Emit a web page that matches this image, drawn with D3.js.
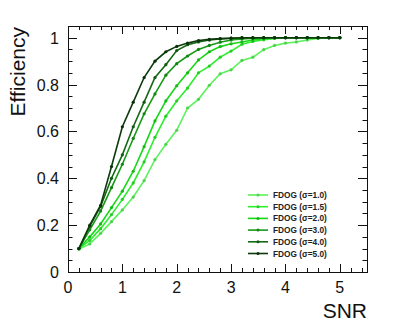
<!DOCTYPE html>
<html><head><meta charset="utf-8">
<script src="https://cdn.jsdelivr.net/npm/d3@7"></script>
<style>body{margin:0;background:#fff}svg{display:block}</style>
</head><body>
<script>
const snr = [0.2,0.4,0.6,0.8,1.0,1.2,1.4,1.6,1.8,2.0,2.2,2.4,2.6,2.8,3.0,3.2,3.4,3.6,3.8,4.0,4.2,4.4,4.6,4.8,5.0];
const sigmaLabels = ["FDOG (σ=1.0)","FDOG (σ=1.5)","FDOG (σ=2.0)","FDOG (σ=3.0)","FDOG (σ=4.0)","FDOG (σ=5.0)"];
const effS10 = [0.097,0.12,0.165,0.215,0.265,0.32,0.39,0.48,0.545,0.605,0.70,0.737,0.797,0.846,0.863,0.903,0.917,0.949,0.967,0.977,0.982,0.99,0.997,1.0,1.0];
const effS15 = [0.10,0.135,0.185,0.245,0.31,0.38,0.47,0.575,0.665,0.73,0.785,0.85,0.879,0.917,0.943,0.972,0.984,0.991,0.997,1.0,1.0,1.0,1.0,1.0,1.0];
const effS20 = [0.10,0.15,0.205,0.275,0.345,0.43,0.535,0.645,0.73,0.795,0.85,0.905,0.94,0.962,0.974,0.982,0.99,0.996,1.0,1.0,1.0,1.0,1.0,1.0,1.0];
const effS30 = [0.10,0.18,0.26,0.36,0.46,0.57,0.675,0.76,0.84,0.889,0.922,0.95,0.967,0.981,0.99,0.995,0.998,1.0,1.0,1.0,1.0,1.0,1.0,1.0,1.0];
const effS40 = [0.10,0.195,0.28,0.40,0.50,0.62,0.725,0.83,0.885,0.945,0.97,0.982,0.99,0.995,0.998,1.0,1.0,1.0,1.0,1.0,1.0,1.0,1.0,1.0,1.0];
const effS50 = [0.10,0.20,0.285,0.45,0.62,0.725,0.83,0.90,0.94,0.963,0.977,0.988,0.993,0.996,0.998,1.0,1.0,1.0,1.0,1.0,1.0,1.0,1.0,1.0,1.0];
const colors = ["#5cf25c","#2cee2c","#18d618","#179a17","#156815","#0c3a0c"];
const xTicks = [0,1,2,3,4,5];
const yTicks = [0,0.2,0.4,0.6,0.8,1];

const series = [effS10,effS15,effS20,effS30,effS40,effS50];
const W=399,H=332;
const L=68,R=367,T=26,B=272;
const svg=d3.select("body").append("svg").attr("width",W).attr("height",H);
const x=d3.scaleLinear().domain([0,5.5]).range([L,R]);
const y=d3.scaleLinear().domain([0,1.05]).range([B,T]);
const font="'Liberation Sans', Arial, Helvetica, sans-serif";

const xMinor=d3.range(0,5.5001,0.2).filter(v=>Math.abs(v-Math.round(v))>1e-6);
const yMinor=d3.range(0,1.0501,0.05).filter(v=>Math.abs(v*5-Math.round(v*5))>1e-6);
const g=svg.append("g").attr("stroke","#111").attr("stroke-width",1).attr("fill","none");
function tick(x1,y1,x2,y2){g.append("line").attr("x1",x1).attr("y1",y1).attr("x2",x2).attr("y2",y2);}
xTicks.forEach(v=>{const px=Math.round(x(v))+0.5;tick(px,B,px,B-8);tick(px,T,px,T+8);});
xMinor.forEach(v=>{const px=Math.round(x(v))+0.5;tick(px,B,px,B-4);tick(px,T,px,T+4);});
yTicks.forEach(v=>{const py=Math.round(y(v))+0.5;tick(L,py,L+9,py);tick(R,py,R-9,py);});
yMinor.forEach(v=>{const py=Math.round(y(v))+0.5;tick(L,py,L+4.5,py);tick(R,py,R-4.5,py);});
g.append("rect").attr("x",L+0.5).attr("y",T+0.5).attr("width",R-L).attr("height",B-T);

svg.append("g").selectAll("text").data(xTicks).join("text")
 .attr("x",d=>x(d)).attr("y",293).attr("text-anchor","middle")
 .attr("font-family",font).attr("font-size",16).attr("fill","#111").text(d=>d);
svg.append("g").selectAll("text").data(yTicks).join("text")
 .attr("x",59).attr("y",d=>y(d)+6).attr("text-anchor","end")
 .attr("font-family",font).attr("font-size",16).attr("fill","#111").text(d=>d);

svg.append("text").attr("transform","translate(25,27) rotate(-90)").attr("text-anchor","end")
 .attr("font-family",font).attr("font-size",21).attr("fill","#111").text("Efficiency");
svg.append("text").attr("x",367).attr("y",318).attr("text-anchor","end")
 .attr("font-family",font).attr("font-size",21).attr("fill","#111").text("SNR");

const line=d3.line().x((d,i)=>x(snr[i])).y(d=>y(d));
series.forEach((s,k)=>{
  const gg=svg.append("g");
  gg.append("path").datum(s).attr("d",line).attr("fill","none").attr("stroke",colors[k]).attr("stroke-width",1.6);
  gg.selectAll("circle").data(s).join("circle").attr("cx",(d,i)=>x(snr[i])).attr("cy",d=>y(d))
    .attr("r",1.6).attr("fill",d3.color(colors[k]).darker(0.4));
});

const lg=svg.append("g");
sigmaLabels.forEach((t,k)=>{
  const yy=195+k*11.7;
  lg.append("line").attr("x1",248).attr("x2",268).attr("y1",yy).attr("y2",yy).attr("stroke",colors[k]).attr("stroke-width",1.6);
  lg.append("circle").attr("cx",258).attr("cy",yy).attr("r",1.5).attr("fill",d3.color(colors[k]).darker(0.4));
  lg.append("text").attr("x",273).attr("y",yy+3).attr("font-family",font).attr("font-weight","bold")
    .attr("font-size",8.3).attr("fill","#222").text(t);
});
</script>
</body></html>
